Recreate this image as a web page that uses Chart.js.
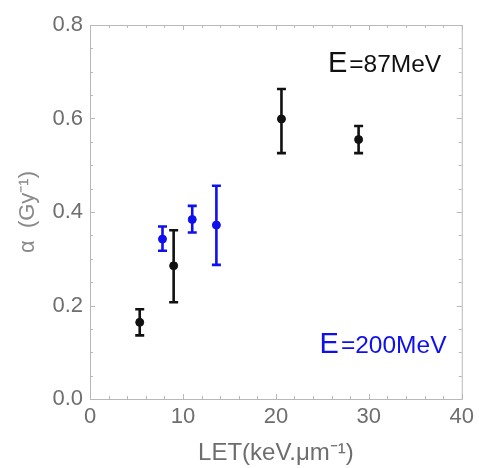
<!DOCTYPE html>
<html lang="en">
<head>
<meta charset="UTF-8">
<title>alpha vs LET</title>
<script src="https://cdn.jsdelivr.net/npm/chart.js@4.4.1/dist/chart.umd.min.js"></script>
<style>
  * { margin: 0; padding: 0; box-sizing: border-box; }
  html, body { width: 479px; height: 468px; background: #fff; overflow: hidden; }
  canvas { display: block; }
</style>
</head>
<body>
<canvas id="chart" width="479" height="468"></canvas>
<script>
// data
const xTicks = [0, 10, 20, 30, 40];
const yTicks = [0.0, 0.2, 0.4, 0.6, 0.8];

const let87 = [5.35, 9.0, 20.6, 28.9];
const alpha87 = [0.164, 0.285, 0.599, 0.555];
const low87 = [0.136, 0.207, 0.526, 0.526];
const high87 = [0.192, 0.361, 0.663, 0.584];

const let200 = [7.8, 11.0, 13.6];
const alpha200 = [0.342, 0.384, 0.372];
const low200 = [0.317, 0.356, 0.287];
const high200 = [0.369, 0.413, 0.456];

const BLACK = '#111111';
const BLUE = '#1010ee';
const GREY = '#6e6e6e';
const FONT = "'Liberation Sans', Arial, sans-serif";

const pts = (xs, ys) => xs.map((x, i) => ({ x: x, y: ys[i] }));

// frame + inward ticks, like the original plot
const framePlugin = {
  id: 'frame',
  afterDraw(chart) {
    const { ctx, chartArea: a, scales: { x, y } } = chart;
    ctx.save();
    ctx.strokeStyle = '#b8b8b8';
    ctx.lineWidth = 1;
    ctx.strokeRect(a.left + 0.5, a.top + 0.5, a.right - a.left, a.bottom - a.top);
    ctx.beginPath();
    for (let v = 0; v <= 40.001; v += 2) {
      const px = Math.round(x.getPixelForValue(v)) + 0.5;
      const len = v % 10 === 0 ? 5 : 3;
      ctx.moveTo(px, a.bottom); ctx.lineTo(px, a.bottom - len);
      ctx.moveTo(px, a.top); ctx.lineTo(px, a.top + len);
    }
    for (let k = 0; k <= 16; k++) {
      const py = Math.round(y.getPixelForValue(k * 0.05)) + 0.5;
      const len = k % 4 === 0 ? 5 : 3;
      ctx.moveTo(a.left, py); ctx.lineTo(a.left + len, py);
      ctx.moveTo(a.right, py); ctx.lineTo(a.right - len, py);
    }
    ctx.stroke();
    ctx.restore();
  }
};

// vertical error bars with caps
const errorPlugin = {
  id: 'errbars',
  afterDatasetsDraw(chart) {
    const { ctx, scales: { x, y } } = chart;
    ctx.save();
    chart.data.datasets.forEach(ds => {
      ctx.strokeStyle = ds.borderColor;
      ctx.lineWidth = 2.6;
      ds.data.forEach((p, i) => {
        const px = x.getPixelForValue(p.x);
        const y1 = y.getPixelForValue(ds.errLow[i]);
        const y2 = y.getPixelForValue(ds.errHigh[i]);
        ctx.beginPath();
        ctx.moveTo(px, y1); ctx.lineTo(px, y2);
        ctx.moveTo(px - 4.5, y1); ctx.lineTo(px + 4.5, y1);
        ctx.moveTo(px - 4.5, y2); ctx.lineTo(px + 4.5, y2);
        ctx.stroke();
      });
    });
    ctx.restore();
  }
};

// "E=87MeV" / "E=200MeV" labels
const labelPlugin = {
  id: 'labels',
  afterDraw(chart) {
    const { ctx, scales: { x, y } } = chart;
    const put = (xv, yv, rest, color) => {
      let px = x.getPixelForValue(xv);
      const py = y.getPixelForValue(yv);
      ctx.fillStyle = color;
      ctx.textBaseline = 'alphabetic';
      ctx.textAlign = 'left';
      ctx.font = '29px ' + FONT;
      ctx.fillText('E', px, py);
      px += ctx.measureText('E').width + 2;
      ctx.font = '24.5px ' + FONT;
      ctx.fillText(rest, px, py);
    };
    ctx.save();
    put(25.6, 0.70, '=87MeV', BLACK);
    put(24.7, 0.098, '=200MeV', BLUE);
    ctx.restore();
  }
};

new Chart(document.getElementById('chart'), {
  type: 'scatter',
  data: {
    datasets: [
      {
        label: 'E=87MeV',
        data: pts(let87, alpha87),
        errLow: low87, errHigh: high87,
        backgroundColor: BLACK, borderColor: BLACK,
        pointRadius: 4, pointHoverRadius: 4
      },
      {
        label: 'E=200MeV',
        data: pts(let200, alpha200),
        errLow: low200, errHigh: high200,
        backgroundColor: BLUE, borderColor: BLUE,
        pointRadius: 4, pointHoverRadius: 4
      }
    ]
  },
  options: {
    responsive: false,
    animation: false,
    layout: { padding: { left: 0, top: 25, right: 12, bottom: 0 } },
    plugins: { legend: { display: false }, tooltip: { enabled: false } },
    scales: {
      x: {
        type: 'linear', min: 0, max: 40,
        afterBuildTicks: s => { s.ticks = xTicks.map(v => ({ value: v })); },
        afterFit: s => { s.height = 69; },
        grid: { display: false, drawTicks: false },
        border: { display: false },
        ticks: { color: GREY, font: { family: FONT, size: 22 }, padding: 5, maxRotation: 0 },
        title: {
          display: true, text: 'LET(keV.\u03bcm\u207b\u00b9)', color: GREY,
          font: { family: FONT, size: 24 }, padding: { top: 0, bottom: 0 }
        }
      },
      y: {
        type: 'linear', min: 0, max: 0.8,
        afterBuildTicks: s => { s.ticks = yTicks.map(v => ({ value: v })); },
        afterFit: s => { s.width = 90; },
        grid: { display: false, drawTicks: false },
        border: { display: false },
        ticks: { color: GREY, font: { family: FONT, size: 22 }, padding: 7, callback: v => v.toFixed(1) },
        title: {
          display: true, text: '\u03b1  (Gy\u207b\u00b9)', color: '#8a8a8a',
          font: { family: FONT, size: 22 }, padding: { top: 15, bottom: 0 }
        }
      }
    }
  },
  plugins: [framePlugin, errorPlugin, labelPlugin]
});
</script>
</body>
</html>
